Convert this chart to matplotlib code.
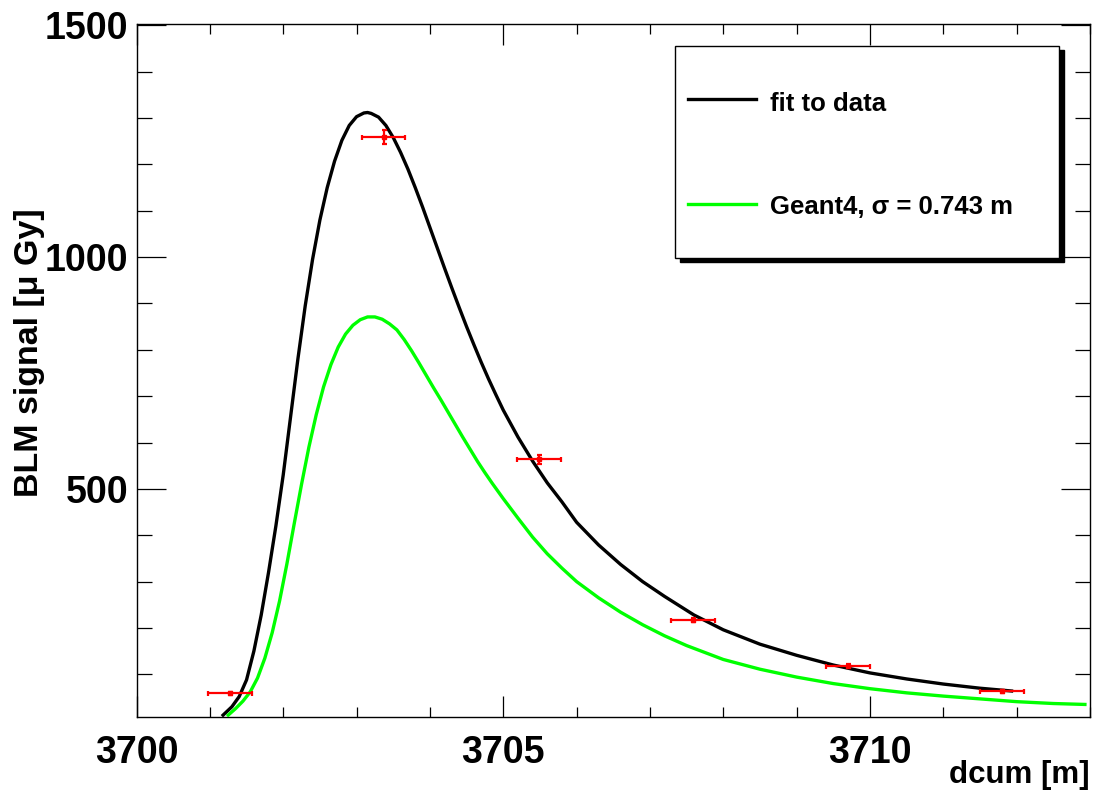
import matplotlib
matplotlib.use("Agg")
import matplotlib.pyplot as plt
from matplotlib.patches import Rectangle
from matplotlib.lines import Line2D
from matplotlib.ticker import MultipleLocator

plt.rcParams["font.family"] = ["Liberation Sans", "DejaVu Sans"]
plt.rcParams["font.weight"] = "bold"

# fit to data (black curve)
fit_x = [3701.18, 3701.30, 3701.40, 3701.50, 3701.60, 3701.70, 3701.80, 3701.90,
         3702.00, 3702.10, 3702.20, 3702.30, 3702.40, 3702.50, 3702.60, 3702.70,
         3702.80, 3702.90, 3703.00, 3703.10, 3703.15, 3703.20, 3703.30, 3703.40,
         3703.50, 3703.60, 3703.70, 3703.80, 3703.90, 3704.00, 3704.10, 3704.20,
         3704.30, 3704.40, 3704.50, 3704.60, 3704.70, 3704.80, 3704.90, 3705.00,
         3705.20, 3705.40, 3705.60, 3705.80, 3706.00, 3706.30, 3706.60, 3706.90,
         3707.20, 3707.60, 3708.00, 3708.50, 3709.00, 3709.50, 3710.00, 3710.50,
         3711.00, 3711.50, 3711.93]
fit_y = [12, 30, 52, 88, 150, 228, 320, 420,
         530, 655, 780, 895, 995, 1080, 1150, 1207,
         1252, 1284, 1303, 1311, 1312, 1310, 1302, 1284,
         1258, 1226, 1190, 1150, 1108, 1064, 1020, 976,
         933, 891, 850, 811, 773, 737, 703, 670,
         612, 560, 513, 472, 428, 379, 337, 300,
         268, 228, 196, 165, 141, 120, 103, 90,
         79, 70, 64]

# Geant4 simulation (green curve)
g4_x = [3701.25, 3701.35, 3701.45, 3701.55, 3701.65, 3701.75, 3701.85, 3701.95,
        3702.05, 3702.15, 3702.25, 3702.35, 3702.45, 3702.55, 3702.65, 3702.75,
        3702.85, 3702.95, 3703.05, 3703.15, 3703.25, 3703.35, 3703.45, 3703.55,
        3703.65, 3703.75, 3703.85, 3703.95, 3704.05, 3704.15, 3704.25, 3704.35,
        3704.45, 3704.55, 3704.65, 3704.75, 3704.85, 3705.00, 3705.20, 3705.40,
        3705.60, 3705.80, 3706.00, 3706.30, 3706.60, 3706.90, 3707.20, 3707.50,
        3708.00, 3708.50, 3709.00, 3709.50, 3710.00, 3710.50, 3711.00, 3711.50,
        3712.00, 3712.50, 3712.93]
g4_y = [12, 26, 42, 62, 92, 135, 190, 258,
        338, 425, 510, 590, 660, 720, 768, 806,
        834, 853, 865, 871, 871, 866, 856, 843,
        822, 798, 772, 745, 718, 692, 665, 638,
        611, 585, 559, 535, 512, 479, 437, 396,
        360, 329, 300, 265, 234, 207, 183, 162,
        132, 111, 94, 80, 69, 60, 53, 47,
        41, 37, 35]

# measured BLM signals
data_x = [3701.28, 3703.37, 3705.49, 3707.59, 3709.70, 3711.80]
data_y = [59, 1260, 564, 217, 119, 63]
data_xerr = [0.30, 0.29, 0.30, 0.30, 0.30, 0.30]
data_yerr = [3, 15, 10, 4, 3, 3]

fig = plt.figure(figsize=(10.93, 7.91), dpi=100)
ax = fig.add_axes([0.1249, 0.0936, 0.8724, 0.8761])

ax.plot(fit_x, fit_y, color="black", lw=2.4, zorder=3)
ax.plot(g4_x, g4_y, color="#00ff00", lw=2.4, zorder=3)
ax.errorbar(data_x, data_y, xerr=data_xerr, yerr=data_yerr, fmt="s", ms=2.5,
            color="red", ecolor="red", elinewidth=1.6, capsize=1.8, capthick=1.6,
            zorder=4)

ax.set_xlim(3700, 3713)
ax.set_ylim(8, 1503)
ax.xaxis.set_major_locator(MultipleLocator(5))
ax.xaxis.set_minor_locator(MultipleLocator(1))
ax.yaxis.set_major_locator(MultipleLocator(500))
ax.yaxis.set_minor_locator(MultipleLocator(100))

for s in ax.spines.values():
    s.set_linewidth(1.0)
ax.tick_params(which="both", direction="in", top=True, right=True, width=0.9,
               labelsize=27)
ax.tick_params(axis="x", which="major", length=15, pad=13)
ax.tick_params(axis="x", which="minor", length=7.5)
ax.tick_params(axis="y", which="major", length=21, pad=6)
ax.tick_params(axis="y", which="minor", length=11)
for lab in ax.get_xticklabels() + ax.get_yticklabels():
    lab.set_fontweight("bold")

ax.text(-0.1035, 0.525, "BLM signal [μ Gy]", transform=ax.transAxes, rotation=90,
        rotation_mode="anchor", ha="center", va="baseline", fontsize=24.5,
        fontweight="bold")
ax.text(1.0, -0.095, "dcum [m]", transform=ax.transAxes, ha="right",
        va="baseline", fontsize=22.5, fontweight="bold")

# legend box with ROOT-style solid shadow
bx0, by0, bw, bh = 0.5648, 0.6623, 0.4027, 0.3060
ax.add_patch(Rectangle((bx0 + 0.0052, by0 - 0.0058), bw, bh, transform=ax.transAxes,
                       facecolor="black", edgecolor="black", zorder=6, clip_on=False))
ax.add_patch(Rectangle((bx0, by0), bw, bh, transform=ax.transAxes,
                       facecolor="white", edgecolor="black", lw=1.0, zorder=7,
                       clip_on=False))
ax.add_line(Line2D([0.578, 0.6496], [0.8918, 0.8918], transform=ax.transAxes,
                   color="black", lw=2.4, zorder=8))
ax.add_line(Line2D([0.578, 0.6496], [0.7403, 0.7403], transform=ax.transAxes,
                   color="#00ff00", lw=2.4, zorder=8))
ax.text(0.6643, 0.8745, "fit to data", transform=ax.transAxes, ha="left",
        va="baseline", fontsize=18.5, fontweight="bold", zorder=8)
ax.text(0.6643, 0.7258, "Geant4, σ = 0.743 m", transform=ax.transAxes, ha="left",
        va="baseline", fontsize=18.5, fontweight="bold", zorder=8)

fig.savefig("out.png", dpi=100)
